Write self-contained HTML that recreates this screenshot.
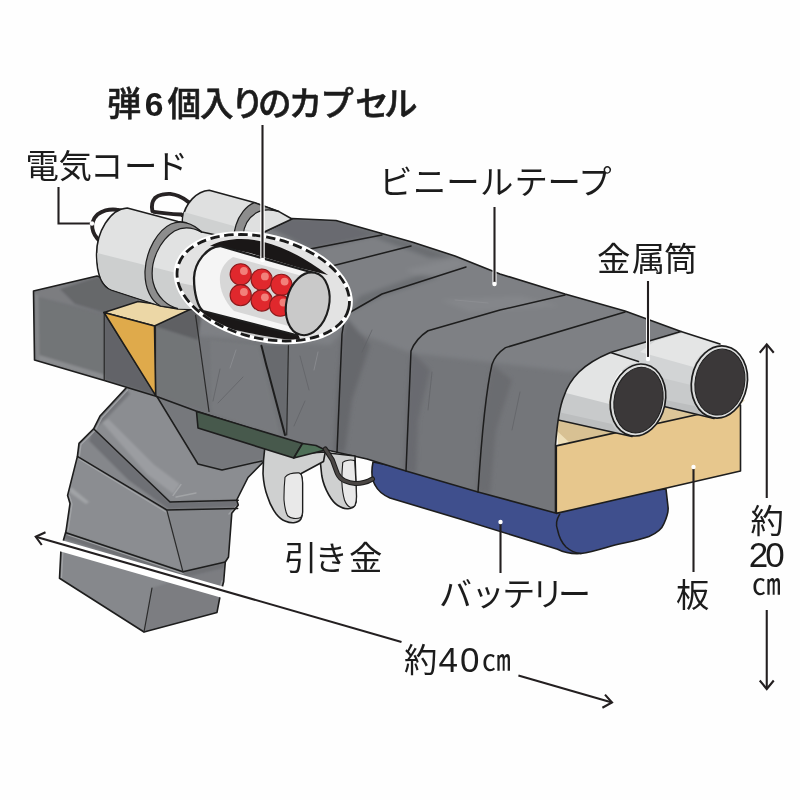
<!DOCTYPE html>
<html lang="ja">
<head>
<meta charset="utf-8">
<title>図解</title>
<style>
html,body{margin:0;padding:0;background:#fefefe;}
body{width:800px;height:800px;overflow:hidden;position:relative;font-family:"Liberation Sans","Noto Sans CJK JP",sans-serif;}
svg{position:absolute;left:0;top:0;display:block;}
text{font-family:"Liberation Sans","Noto Sans CJK JP",sans-serif;fill:#1c1c1c;}
.o{stroke:#1d1d1d;stroke-width:1.6;stroke-linejoin:round;stroke-linecap:round;}
.l{fill:none;stroke:#1d1d1d;stroke-width:1.5;stroke-linejoin:round;stroke-linecap:round;}
.t{fill:none;stroke:#2a2a2a;stroke-width:1.2;stroke-linecap:round;}
.ld{fill:none;stroke:#231f20;stroke-width:2.1;}
.lw{fill:none;stroke:#fff;stroke-width:4.5;stroke-linecap:round;}
</style>
</head>
<body>
<svg width="800" height="800" viewBox="0 0 800 800">
<rect width="800" height="800" fill="#fefefe"/>

<!-- ===== GRIP ===== -->
<g id="grip">
<defs><clipPath id="gc"><path d="M126,388 L100,416 L93.6,428.8 L79,443.4 L77.4,456.4 L67.6,495.4 L70,503.5 L66,531 L61,549 L59.5,578.3 L144,632 L217,612.4 L220.4,594.5 L223.7,581.5 L225.3,562 L228.5,557 L231.8,513.3 L238.3,505 L236.7,500 L248,477.5 L264.3,461 L270,440 L160,388 Z"/></clipPath></defs>
<path fill="#84868a" d="M126,388 L100,416 L93.6,428.8 L79,443.4 L77.4,456.4 L67.6,495.4 L70,503.5 L66,531 L61,549 L59.5,578.3 L144,632 L217,612.4 L220.4,594.5 L223.7,581.5 L225.3,562 L228.5,557 L231.8,513.3 L238.3,505 L236.7,500 L248,477.5 L264.3,461 L270,440 L160,388 Z"/>
<g clip-path="url(#gc)" filter="url(#bl1)">
<!-- seg1 lighter middle -->
<path fill="#8b8d91" d="M126,388 L156,395 L198,464 L222,470 L262,461 L240,500 L172,502 L94,429 Z"/>
<path fill="#76787c" d="M156,395 L270,420 L270,458 L222,470 L198,464 Z"/>
<path fill="#9b9da1" d="M101.8,422 L147.3,474.3 L173.3,493.8 L179.8,484 L153.800,464.500 L108.300,419 Z"/>
<path fill="#74767a" d="M126,388 L100,416 L94,429 L104,421 L130,394 Z"/>
<!-- shadow under L1 -->
<path fill="#6e7074" d="M93.600,428.800 L170,502 L238.300,500.300 L238,507 L168,509 L128,480 L89,441 Z"/>
<path fill="#85878b" d="M77.400,456.400 L79,443.400 L89,441 L128,480 L168,509 Z"/>
<!-- seg3 -->
<path fill="#8b8d91" d="M77.400,456.400 L166.800,510 L183,571.800 L66,532.800 L70,503.500 L67.600,495.400 Z"/>
<path fill="#84868a" d="M166.800,510 L237.700,508.400 L231.800,513.300 L228.500,557 L225.300,562 L183,571.800 Z"/>
<path fill="#a2a4a7" d="M70.900,487 L89,502 L86,504 L69.500,492 Z"/>
<path fill="#6f7175" d="M66,532.800 L183,571.800 L225.300,562 L224.500,568 L183,578 L64,539 Z"/>
<!-- bottom seg -->
<path fill="#86888c" d="M64,539 L183,578 L152,588 L144,632 L59.500,578.300 L61,549 Z"/>
<path fill="#7b7d81" d="M183,578 L224.500,568 L217,612.400 L144,632 L152,588 Z"/>
</g>
<g clip-path="url(#gc)" fill="none" stroke="#a6a8ab" stroke-width="1.3" stroke-linecap="round" opacity="0.85">
<path d="M127.500,390 L102,417.500 L95.500,430 L81,444.500 L79.300,457"/>
<path d="M69.500,496 L72,504 L68,531"/>
<path d="M63,549.500 L61.500,577.500"/>
<path d="M79,459 L166,512"/>
<path d="M68,535 L183,573.500"/>
<path d="M173,495.500 L181,484.500 M176,497 L196,493"/>
<path d="M229,514 L236,506.500"/>
<path d="M218.500,594 L222,581"/>
</g>
<path class="o" fill="none" d="M126,388 L100,416 L93.6,428.8 L79,443.4 L77.4,456.4 L67.6,495.4 L70,503.5 L66,531 L61,549 L59.5,578.3 L144,632 L217,612.4 L220.4,594.5 L223.7,581.5 L225.3,562 L228.5,557 L231.8,513.3 L238.3,505 L236.7,500 L248,477.5 L264.3,461 L270,440"/>
<path class="l" d="M93.600,428.800 L170,502 L238.300,500.300"/>
<path class="l" d="M77.400,456.400 L166.800,510 L237.700,508.400"/>
<path class="l" d="M66,532.800 L183,571.800 L225.300,562"/>
<path class="l" d="M156,395 L198,464 L222,470 L262,461"/>
<path class="t" d="M166.800,510 L183,571.800 M152,588 L144,632"/>
</g>

<!-- ===== BATTERY ===== -->
<g id="battery">
<path class="o" fill="#3f4f8d" d="M373,462 C371,472 372,480 375,485 C378,491 383,495 390,498 L460,519 L557.6,549.25 C565,553 574,554 581,553.5 C593,552 604,548 615,545 C628,542 640,540 649,536.5 C657,533 662,529 664,523.5 C667,517 668.5,510 668,506.75 L666,489 L560,500 Z"/>
<path class="l" d="M559.75,514.2 C556,520 556,526 557.6,530 C559,537 562,543 566,547 C570,550.500 575,553 581,553.500"/>
</g>

<!-- ===== BOARD ===== -->
<g id="board">
<path fill="#eedfb9" d="M556,420 L640,380 L745,400 L740,405 L558,446 Z"/>
<path fill="#d8c193" d="M556,416 L634,436 L650,425 L600,436.5 L570,443 L556,430 Z"/>
<path fill="#dcc698" d="M652,402 L716,419 L700,414.5 L662,423 Z"/>
<path class="o" fill="#e7c78d" stroke-width="1.2" d="M556.3,445.900 L740.5,405 L740.5,471 L556.3,513.400 Z"/>
</g>

<!-- ===== METAL TUBES ===== -->
<g id="tubes">
<!-- tube 2 (back) -->
<path fill="#d2d4d5" d="M681,331.5 L722,344.5 C700,346 689,370 692,395 C694,410 704,418 716,419 L640,400 L610.5,352.5 Z"/>
<path fill="#e4e5e5" d="M655,341 L682,333 L721,345.500 C706,347 697,356 693.500,367 L640,352 Z"/>
<path fill="#c8cacb" d="M650,375 L691,385 C691,398 700,416 716,419 L650,404 Z"/>
<path fill="#bcbebf" d="M655,398 L695,406 C698,412 706,418 716,419 L655,405 Z"/>
<path class="l" d="M681,331.500 L720,344 M714,418.500 L660,405.500"/>
<g transform="rotate(10.5 719.4 382)">
<ellipse cx="719.400" cy="382" rx="27.800" ry="36.300" fill="#dcdddd" stroke="#1d1d1d" stroke-width="1.7"/>
<ellipse cx="719.900" cy="382" rx="24.700" ry="33.200" fill="#3b3839" stroke="#1d1d1d" stroke-width="1"/>
</g>
<!-- tube 1 (front) -->
<path fill="#e3e4e4" d="M610.5,352.5 L640,362 C618,364 607,388 610,413 C612,428 622,436 634,437 L556,419.5 C559,400 566,385 579,372 C587,364 596,358 610.5,352.5 Z"/>
<path fill="#c8cacb" d="M566,393 L609.500,404 C610,422 620,435 634,437 L556.500,419.500 C558,410 561,401 566,393 Z"/>
<path fill="#bcbebf" d="M558,412 L612,424 C616,432 624,436.500 634,437 L556.500,419.500 Z"/>
<path class="l" d="M610.5,352.5 L638.500,361.500 M632,436.500 L556,419.5"/>
<g transform="rotate(12 638 400)">
<ellipse cx="638" cy="400" rx="27.3" ry="36.3" fill="#dcdddd" stroke="#1d1d1d" stroke-width="1.7"/>
<ellipse cx="638.5" cy="400" rx="24.2" ry="33.2" fill="#3b3839" stroke="#1d1d1d" stroke-width="1"/>
</g>
</g>

<!-- ===== MAIN BODY ===== -->
<g id="body">
<defs>
<clipPath id="bc"><path d="M33.5,291 L97,276 L140,290 L200,300 L262,233 L292,218.5 L336,220.5 L412,242 L455,256 L500,274 L565,294 L625,311 L681,331.5 L610.5,352.5 C595,359 585,366 579,372 C571,380 566,390 564,396 C559,408 557,425 555.5,445 L555.5,513 L478,492 L406,471 L367,459 L300,444 L196,411 L156,396.25 L104.25,380.5 L34.5,360 Z"/></clipPath>
<filter id="bl" x="-5%" y="-5%" width="110%" height="110%"><feGaussianBlur stdDeviation="2.2"/></filter>
<filter id="bl1" x="-5%" y="-5%" width="110%" height="110%"><feGaussianBlur stdDeviation="1"/></filter>
</defs>
<path fill="#74767a" d="M33.5,291 L97,276 L140,290 L200,300 L262,233 L292,218.5 L336,220.5 L412,242 L455,256 L500,274 L565,294 L625,311 L681,331.5 L610.5,352.5 C595,359 585,366 579,372 C571,380 566,390 564,396 C559,408 557,425 555.5,445 L555.5,513 L478,492 L406,471 L367,459 L300,444 L196,411 L156,396.25 L104.25,380.5 L34.5,360 Z"/>
<g clip-path="url(#bc)">
<g filter="url(#bl)">
<!-- top face lighter -->
<path fill="#7e8084" d="M262,230 L292,216 L336,218 L412,240 L455,254 L500,272 L565,292 L625,309 L690,331 L610.5,355 L581,371 L573,372 L488.6,362 L411,353 L347,328 L330,345 L200,336 L155,324 L190,310 Z"/>
<!-- fold right of ellipse -->
<path fill="#66686c" d="M347,318 L370,345 L352,400 L345,452 L334,452 L338,380 L342,334 Z"/>
<path fill="#696b6f" d="M411,351 L430,370 L418,420 L416,474 L404,470 L407,400 Z"/>
<path fill="#6a6c70" d="M492,364.5 L512,380 L496,430 L490,495 L476,491 L482,420 Z"/>
<!-- top face streaks -->
<path fill="#696b6f" d="M270,228 L292,217 L336,219 L384,234 L312,250 L296,242 Z"/>
<path fill="#6b6d71" d="M340,222 L412,243 L455,257 L430,258 L382,240 Z"/>
<path fill="#85878b" d="M405,270 L455,258 L472,264 L425,279 Z"/>
<path fill="#6d6f73" d="M347,314 L382,296 L440,277 L420,275 L360,296 Z"/>
<path fill="#84868a" d="M440,300 L520,296 L560,306 L470,312 Z"/>
</g>
<g filter="url(#bl1)">
<!-- left block -->
<path fill="#7b7d80" d="M33.5,291 L97,276 L140,290 L135,302 L104,312.5 L34,296 Z"/>
<path fill="#66686b" d="M60,289 L97,277 L140,290 L135,302 L104,312.5 L75,304 Z"/>
<path fill="#727477" d="M34.5,296 L104,315 L104,380 L35.8,360 Z"/>
<path fill="#8b8d90" d="M36,354 L104,374.5 L104,380 L35.8,360 Z"/>
<path fill="#85878a" d="M34.5,294 L38.5,295 L39.5,361 L35.8,360 Z"/>
<path fill="#626467" d="M104,312.5 L156,395.5 L104,379.500 Z"/>
<path fill="#727477" d="M155,324 L196,334 L208,411 L155,395.500 Z"/>
<path fill="#5f6164" d="M154.500,326 L191,309 L202,312 L198,340 Z"/>
<!-- fold under ellipse -->
<path fill="#686a6e" d="M261.400,345 L288.400,345 L286.700,435 L284,435 L268,371 Z"/>
<path fill="#787a7e" d="M210,340 L258,345 L280,436 L212,413 Z"/>
</g>
</g>
<path class="o" fill="none" d="M33.5,291 L97,276 L140,290 L200,300 L262,233 L292,218.5 L336,220.5 L412,242 L455,256 L500,274 L565,294 L625,311 L681,331.5 L610.5,352.5 C595,359 585,366 579,372 C571,380 566,390 564,396 C559,408 557,425 555.5,445 L555.5,513 L478,492 L406,471 L367,459 L300,444 L196,411 L156,396.25 L104.25,380.5 L34.5,360 Z"/>
<!-- seams -->
<path class="l" d="M310,249 L382,235"/>
<path class="l" d="M332,266 L411,246"/>
<path class="l" d="M466,267 L382,294 L347,314 C344,320 343,327 342,334 L337,452"/>
<path class="l" d="M565,295 L500,310 L428,330.75 C420,336 414,343 411,351 L406,471"/>
<path class="l" d="M625,312 L505.5,347.6 C499,352 494,358 492,364.5 C486,390 482,430 478,492"/>
<path class="l" d="M261.400,345.700 C264,355 266,365 268,371 L285,435" style="stroke-width:2"/>
<path class="t" d="M288.400,345.700 L286.700,435"/>
<path class="t" d="M195.600,315.300 L209,411.500 M104.25,312.500 L104.25,380.500 M155.5,324 L155.5,396 M104,312.500 L156,395.500"/>

<!-- scratches -->
<path fill="none" stroke="#5f6165" stroke-width="1" stroke-linecap="round" opacity="0.7" d="M220,369 L213,401 M243,377 L218,403 M300,356 L309,390 M305,401 L294,426 M372,330 L362,352 M520,392 L512,430 M140,345 L148,372 M432,372 L428,410"/>
<path fill="none" stroke="#8f9195" stroke-width="0.9" stroke-linecap="round" opacity="0.8" d="M455,300 L488,303 M236,350 L230,368 M318,352 L314,370"/>
</g>

<!-- ===== WEDGE ===== -->
<g id="wedge">
<path class="o" fill="#ecd7a6" stroke-width="1.1" d="M104,312.500 L138,301.500 L191,309 L154.500,326 Z"/>
<path class="o" fill="#dfaa4b" stroke-width="1.1" d="M104,312.500 L154.500,326 L155.700,395.700 Z"/>
</g>

<!-- ===== GREEN BLOCK / TRIGGERS ===== -->
<g id="trigger">
<!-- trigger 2 (right) -->
<path class="o" fill="#cfd0d0" stroke-width="1.3" d="M320,452 C320,462 321,470 321.750,475.500 C323,483 325.500,489 328.750,494.750 C331.500,499.500 334,503 337.500,505.250 C341,507.500 344.500,509 348,508.750 C351.500,508.500 354,507.500 355,505.250 C356.200,502.500 356.400,499.500 356.400,496.500 L355.900,482.500 L355,456 Z"/>
<path fill="#e9e9e9" stroke="#1d1d1d" stroke-width="1.1" d="M342.750,462.400 C342,470 341.800,476 341.900,482.500 C342.200,489 343,495 344.500,500 C345.800,503.500 347.500,506 349.750,507 C352,507.500 354,506.800 355,505.250 C356.200,502.500 356.400,499.500 356.400,496.500 L355.900,482.500 L354.650,460.600 C351,459.500 345.500,460 342.750,462.400 Z"/>
<!-- trigger 1 (left) -->
<path class="o" fill="#cfd0d0" stroke-width="1.3" d="M264.900,447 C263.500,457 263,466 263,473.750 C263.500,482 265,490 267.500,496.500 C269.500,503 272.500,509 276.250,514 C279,517.500 282,520 285,521 C288,522.300 291,523 293.750,522.750 C297,522.300 299.500,521 300.750,519.250 C302,517 302.500,515 302.500,512.250 L302.500,482.500 C302.300,479 301.700,476 300.750,473.750 L323.500,461.500 L325.250,452 L293.750,454 Z"/>
<path fill="#e9e9e9" stroke="#1d1d1d" stroke-width="1.1" d="M285,477.250 C284.200,485 283.900,493 284,500 C284.500,506 285.500,512 287.600,515.750 C289.500,517.500 291.500,518.300 293.750,518.400 C296.500,518.600 299,518.300 300.750,517.500 C302,515.500 302.500,514 302.500,512.250 L302.500,482.500 C302.300,479.500 301.900,477 301.600,475.500 C300.800,474 300,473.200 299,472.900 C296,472.700 293,473 290.250,473.750 C288,474.500 286,475.800 285,477.250 Z"/>
<!-- green block -->
<path class="o" fill="#47594c" d="M196.500,411.500 L198,428 L293.750,458 L302.500,443.500 Z"/>
<path class="o" fill="#4e6f57" d="M302.500,443.500 L293.750,458 L325.250,450 L316,445.500 Z"/>
<path fill="none" stroke="#1d1d1d" stroke-width="5" stroke-linecap="round" d="M325.250,449 C328,453 330,456.500 332.250,459.750 C334,464 335.500,469 337.500,473.750 C339,477 341.500,479.500 344.500,480.750 C348,482.300 351.500,483.200 355,483.400 C358,483.500 361,483.200 363.750,482.500 C367,481.800 370,480.500 372.500,479"/>
<path fill="none" stroke="#4a4644" stroke-width="3" stroke-linecap="round" d="M325.250,449 C328,453 330,456.500 332.250,459.750 C334,464 335.500,469 337.500,473.750 C339,477 341.500,479.500 344.500,480.750 C348,482.300 351.500,483.200 355,483.400 C358,483.500 361,483.200 363.750,482.500 C367,481.800 370,480.500 372.500,479"/>
</g>

<!-- ===== CYLINDERS ===== -->
<g id="cyl">
<!-- wires -->
<g fill="none" stroke="#272324" stroke-width="3.9" stroke-linecap="round">
<path d="M152.4,211 C151.2,206 152.5,201 155,198 C157,196 159.5,195 162,194.6 C165,194 168,193.7 170.25,193.9 C173,194.3 176,195 178.5,196 C181.5,197.3 184.5,199 186.75,200.8 L191,203.5"/>
<path d="M153.75,211.8 C163,213.3 172,214 181.25,214.5 L184,216.6"/>
<path d="M100,241.4 C99,240.5 98,239.6 97.4,238.6 C95.5,236.5 94,234 93.25,231.75 C92.3,229 92,226.5 92.2,224 C92.6,221.5 93.5,220 94.5,218 C95.5,216.5 96.5,215.5 97.4,214.6 C100,212.5 103,211.2 105.6,210.4 C109,209.6 113,209.4 116.6,209.75 C120,210 123,211 125.5,212"/>
</g>
<!-- cyl 2 (back) -->
<path class="o" fill="#dfe0e0" d="M209.250,190.250 C197,191 185,203 182.500,219 C182,228 184,236 188,240 L262,262 L262,233 L292,219 L279,211.600 L254.250,202.600 Z"/>
<path fill="#cfd1d1" d="M184,212 L262,234 L262,262 L188,240 C184,236 182,225 184,212 Z"/>
<path fill="#8d8d8d" stroke="#1d1d1d" stroke-width="1.2" d="M254.250,202.600 C246,206 239,215 236,225 L234,233 L243,235.500 C244,225 248,218 256,213 C262,209.500 270,209 279,211.600 Z"/>
<!-- cyl 1 (front) -->
<path class="o" fill="#e1e2e2" d="M127.250,208 C110,209 96,232 96.600,256 C97,276 103,287 111.500,290 L160.500,306 L178,309 L193,309.500 L205,295 L240,300 L230,238 L202,232 L185,222.5 L178,221.5 Z"/>
<path fill="#cdcfcf" d="M97.300,253 L200,279 L205,295 L193,309 L178,308.500 L160.500,305.500 L111.500,289.500 C103,286 97.500,272 97.300,253 Z"/>
<path fill="#8d8d8d" stroke="#1d1d1d" stroke-width="1.2" d="M202,232.500 C192,222 180,220 171,224 C158,230 146,250 145,271 C144.500,288 151,301 160.500,306 L178,308.600 C168,306 157,298 153,282 C149,262 160,240 174.500,231 C184,226 194,228 202,232.500 Z"/>

</g>

<!-- ===== CAPSULE CUTAWAY ELLIPSE ===== -->
<g id="cut">
<defs><clipPath id="ec"><ellipse cx="263.25" cy="287.75" rx="86.5" ry="49" transform="rotate(13.75 263.25 287.75)"/></clipPath></defs>
<ellipse cx="263.25" cy="287.75" rx="91.3" ry="53.8" transform="rotate(13.75 263.25 287.75)" fill="#ffffff"/>
<ellipse cx="263.25" cy="287.75" rx="86.5" ry="49" transform="rotate(13.75 263.25 287.75)" fill="#e3e3e3"/>
<g clip-path="url(#ec)">
<path fill="#cacaca" d="M170,281 L195,286 C196,297 199,306 203,312 L240,329 L300,341 L320,352 L200,345 Z"/>
<!-- black interior shadows -->
<path fill="#1a1717" d="M210,246 C225,238 245,237.5 262,241.5 C285,247 305,258 328,275 L300,268 L250,253 L222,247 Z"/>
<path fill="#1a1717" d="M198,309 C207,322 224,328 240,331 C260,335.5 280,339 301,341 L298,334 L205,309 Z"/>
<!-- inner tube -->
<path fill="#f5f5f5" stroke="#1d1d1d" stroke-width="2.3" d="M220,246 C207,247 194.5,262 194,278 C194,294 198,307 203,311 L296,335 L312,272.5 Z"/>
<path fill="#d7d7d7" d="M233,257 L306,277 L292,327 L234,311 C223,300 219,287 220,276 C221,268 226,261 233,257 Z"/>
<!-- balls -->
<g stroke="#8c1a1c" stroke-width="1.1" fill="#e0282d">
<circle cx="240.7" cy="274.3" r="10.6"/>
<circle cx="240.7" cy="295.2" r="10.6"/>
<circle cx="261.7" cy="279.6" r="10.6"/>
<circle cx="261.7" cy="300.5" r="10.6"/>
<circle cx="281.4" cy="284.8" r="10.6"/>
<circle cx="280.2" cy="305.7" r="10.6"/>
</g>
<g fill="#f2807a">
<circle cx="243.9" cy="271" r="3.9"/><circle cx="243.9" cy="292" r="3.9"/>
<circle cx="264.9" cy="276.4" r="3.9"/><circle cx="264.9" cy="297.300" r="3.9"/>
<circle cx="284.6" cy="281.600" r="3.9"/><circle cx="283.4" cy="302.500" r="3.9"/>
</g>
<!-- end cap -->
<ellipse cx="307.7" cy="303.8" rx="21.3" ry="31.8" transform="rotate(13 307.7 303.8)" fill="#c9c9c9" stroke="#1d1d1d" stroke-width="2.1"/>
</g>
<ellipse cx="263.25" cy="287.75" rx="87.9" ry="50.4" transform="rotate(13.75 263.25 287.75)" fill="none" stroke="#1a1a1a" stroke-width="2.8" stroke-dasharray="9.5 4.5"/>
</g>

<!-- ===== LEADERS ===== -->
<g id="leaders">
<path class="lw" d="M262.5,132 L262.5,260"/>
<path class="ld" d="M262.5,125 L262.5,259"/>
<circle cx="262.5" cy="260" r="2.2" fill="#fff"/>
<path class="ld" d="M58.5,187 L58.5,223.5 L91,223.5"/>
<circle cx="92" cy="223.5" r="2.2" fill="#fff"/>
<path class="lw" d="M494.5,268 L494.5,283" style="stroke-width:4"/>
<path class="ld" d="M494.5,207 L494.5,283"/>
<circle cx="494.5" cy="284" r="2.2" fill="#fff"/>
<path class="lw" d="M648,318 L648,358" style="stroke-width:4"/>
<path class="ld" d="M648,281 L648,358"/>
<circle cx="648" cy="359" r="2.2" fill="#fff"/>
<path class="ld" d="M693.5,468 L693.5,572"/>
<circle cx="693.5" cy="467" r="2.2" fill="#fff"/>
<path class="ld" d="M500.5,523 L500.5,573"/>
<circle cx="500.5" cy="522" r="2.2" fill="#fff"/>
</g>

<!-- ===== DIMENSION ARROWS ===== -->
<g id="dims">
<path d="M57,544.6 L236,596.1" style="fill:none;stroke:#fff;stroke-width:11;stroke-linecap:butt"/>
<path class="ld" d="M35.75,536.75 L401.5,641.9"/>
<path class="ld" d="M45.5,532.25 L35.75,536.75 L41.75,545" style="stroke-linejoin:miter"/>
<path class="ld" d="M518.4,675.6 L612,702.5"/>
<path class="ld" d="M605,694.6 L612,702.5 L602.4,707.75" style="stroke-linejoin:miter"/>
<path class="ld" d="M766.75,345 L766.75,498"/>
<path class="ld" d="M759.75,352.75 L766.75,344.4 L773.75,352.75" style="stroke-linejoin:miter"/>
<path class="ld" d="M766.75,610 L766.75,688.5"/>
<path class="ld" d="M759.75,680.5 L766.75,689 L773.75,680.5" style="stroke-linejoin:miter"/>
</g>

<!-- ===== TEXT ===== -->
<g id="labels" style="opacity:0.999">
<text text-anchor="middle" x="124.2 154.2 184.4 216.9 247.5 274.8 305.6 337.1 372.0 400.8" y="116.0" font-size="33.6" font-weight="500" stroke="#1c1c1c" stroke-width="0.55">弾<tspan font-weight="700" stroke="none">6</tspan>個入りのカプセル</text>
<text text-anchor="middle" x="42.3 75.2 106.6 140.6 171.5" y="177.5" font-size="33.4">電気コード</text>
<text text-anchor="middle" x="395.7 429.8 462.9 496.6 531.3 564.1 594.9" y="194.3" font-size="33.4">ビニールテープ</text>
<text text-anchor="middle" x="613.8 648.4 680.6" y="271.2" font-size="33.4">金属筒</text>
<text text-anchor="middle" x="300.6 331.1 365.6" y="569.6" font-size="33.4">引き金</text>
<text text-anchor="middle" x="455.5 487.9 518.7 547.4 574.5" y="605.8" font-size="33">バッテリー</text>
<text text-anchor="middle" x="692.8" y="606.6" font-size="33.4">板</text>
<text text-anchor="middle" x="420.7" y="671.9" font-size="33.4">約</text>
<text text-anchor="middle" x="767.2" y="533.0" font-size="33.4">約</text>
<text text-anchor="middle" x="448.2 469.8" y="671.6" font-size="35">40</text>
<text text-anchor="middle" x="496.2" y="670.7" font-size="29">㎝</text>
<text text-anchor="middle" x="758.5 775" y="567.4" font-size="35">20</text>
<text text-anchor="middle" x="766.3" y="595.4" font-size="29">㎝</text>
</g>
</svg>
</body>
</html>
